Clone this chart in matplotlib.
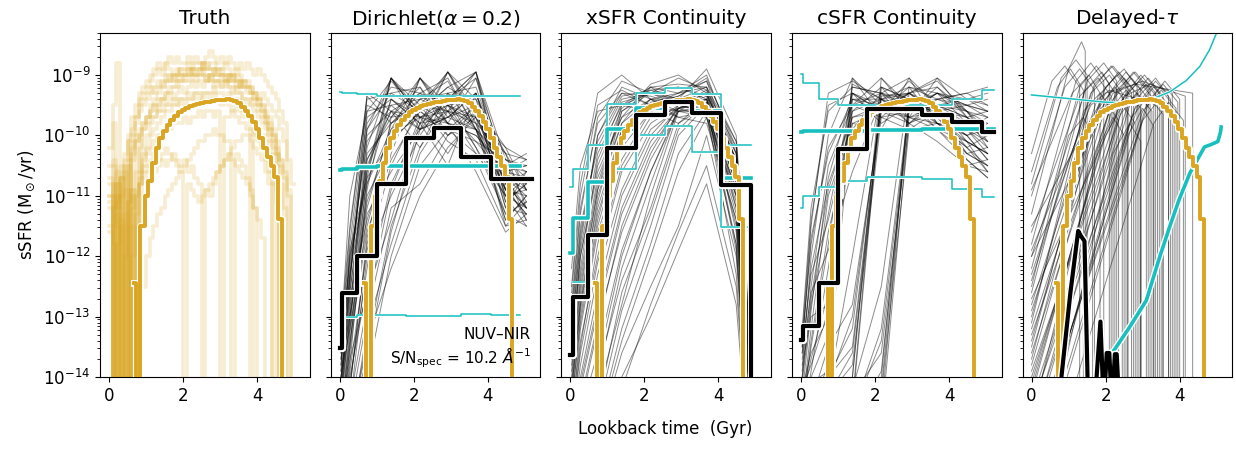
import numpy as np
import matplotlib
matplotlib.use("Agg")
import matplotlib.pyplot as plt
import matplotlib.patheffects as pe

GOLD = "#DAA520"
CYAN = "#17BFBF"
nan = np.nan

# ---- data (log10 sSFR, lookback time in Gyr) ----
# bin edges of the non-parametric SFHs and the knots the draws are drawn through
bin_edges = [0.0, 0.07, 0.48, 1.0, 1.78, 2.56, 3.28, 4.08, 4.88, 5.2]
knots = [0.035, 0.275, 0.74, 1.39, 2.17, 2.92, 3.68, 4.48, 5.04]

# true median SFH (first bins irregular, then 0.1 Gyr bins)
truth_edges = [0.67, 0.72, 0.85] + list(np.round(np.arange(0.96, 4.77, 0.1), 2))
truth_med = [-12.45, -20, -11.5,
             -11.0, -10.75, -10.45, -10.2, -10.05, -9.93, -9.83, -9.75, -9.68, -9.62,
             -9.58, -9.55, -9.52, -9.5, -9.48, -9.47, -9.45, -9.44, -9.43, -9.42,
             -9.41, -9.41, -9.4, -9.41, -9.43, -9.47, -9.53, -9.6, -9.68, -9.78,
             -9.9, -10.05, -10.2, -10.35, -10.5, -10.68, -11.38, -20]

# individual true SFHs, 0.1 Gyr bins from 0, in units of 0.1 dex (-200 = no SF)
truth_draws = [
    [-200, -108, -112, -105, -200, -101, -99, -97, -95, -94, -93, -92, -93, -91, -92, -90, -91, -90, -91, -90,
     -90, -89, -90, -90, -89, -90, -91, -90, -89, -90, -90, -91, -90, -90, -91, -92, -91, -92, -93, -93,
     -94, -95, -96, -97, -99, -101, -104, -200, -200, -200],
    [-112, -115, -110, -200, -106, -200, -103, -101, -100, -99, -98, -97, -97, -96, -96, -95, -95, -94, -95, -94,
     -94, -93, -94, -93, -93, -94, -93, -93, -92, -93, -93, -94, -93, -94, -94, -95, -96, -96, -97, -98,
     -99, -100, -101, -103, -200, -200, -200, -200, -200, -200],
    [-105, -95, -88, -200, -200, -104, -100, -97, -94, -93, -92, -91, -90, -89, -90, -88, -89, -90, -89, -90,
     -91, -90, -89, -90, -90, -89, -90, -91, -92, -91, -90, -91, -92, -93, -92, -93, -94, -95, -94, -96,
     -97, -98, -99, -101, -103, -105, -108, -112, -200, -200],
    [-115, -200, -113, -200, -120, -115, -200, -110, -108, -107, -106, -105, -106, -105, -104, -105, -104, -103, -104, -105,
     -104, -106, -105, -107, -108, -200, -109, -110, -108, -106, -105, -104, -103, -104, -105, -106, -107, -108, -110, -112,
     -114, -117, -200, -200, -200, -200, -200, -200, -200, -200],
    [-200, -110, -200, -107, -200, -105, -200, -115, -108, -103, -100, -98, -97, -95, -94, -93, -92, -92, -91, -91,
     -90, -90, -89, -89, -89, -88, -89, -88, -88, -89, -89, -88, -89, -90, -89, -90, -91, -91, -92, -93,
     -94, -95, -97, -98, -100, -103, -200, -200, -200, -200],
    [-110, -200, -108, -200, -105, -200, -102, -100, -200, -98, -97, -96, -95, -96, -94, -95, -93, -94, -93, -92,
     -93, -92, -91, -92, -91, -92, -91, -90, -91, -91, -92, -91, -90, -91, -92, -91, -92, -93, -93, -94,
     -95, -96, -97, -99, -100, -102, -104, -106, -109, -200],
    [-107, -200, -118, -115, -200, -111, -109, -200, -107, -106, -105, -104, -103, -104, -103, -102, -103, -104, -105, -106,
     -200, -108, -109, -110, -111, -110, -109, -108, -107, -106, -105, -104, -103, -102, -101, -101, -100, -100, -101, -102,
     -103, -104, -106, -108, -200, -200, -200, -200, -200, -200],
    [-200, -104, -200, -110, -104, -100, -97, -95, -93, -92, -91, -90, -89, -88, -89, -88, -87, -88, -87, -88,
     -88, -87, -88, -87, -88, -88, -87, -86, -87, -88, -87, -88, -87, -88, -89, -88, -89, -88, -89, -90,
     -89, -90, -91, -92, -93, -94, -96, -98, -200, -200],
    [-110, -105, -200, -200, -200, -200, -120, -113, -108, -105, -102, -100, -99, -98, -97, -96, -96, -95, -95, -94,
     -95, -94, -94, -93, -94, -93, -93, -94, -93, -94, -95, -94, -95, -96, -95, -96, -97, -97, -200, -99,
     -100, -101, -102, -104, -106, -109, -200, -200, -200, -200],
    [-200, -112, -108, -200, -113, -200, -110, -200, -200, -125, -120, -117, -115, -113, -112, -110, -109, -108, -107, -106,
     -105, -104, -103, -102, -101, -101, -100, -100, -99, -100, -100, -101, -101, -200, -103, -104, -105, -107, -109, -112,
     -200, -200, -200, -200, -200, -200, -200, -200, -200, -200],
    [-102, -98, -200, -107, -103, -101, -200, -98, -96, -95, -94, -93, -92, -92, -91, -91, -90, -91, -90, -89,
     -90, -89, -89, -90, -89, -88, -89, -89, -90, -89, -90, -90, -91, -90, -91, -92, -91, -92, -92, -93,
     -94, -93, -94, -95, -96, -97, -99, -101, -104, -108],
    [-108, -118, -200, -114, -200, -111, -109, -200, -106, -104, -103, -102, -101, -100, -100, -99, -99, -98, -98, -98,
     -97, -98, -97, -97, -96, -97, -96, -96, -97, -96, -200, -97, -97, -96, -97, -98, -98, -99, -99, -100,
     -101, -102, -104, -106, -108, -111, -200, -200, -200, -200],
    [-111, -200, -106, -200, -109, -200, -112, -106, -102, -99, -97, -95, -94, -93, -92, -91, -91, -90, -90, -89,
     -89, -88, -89, -88, -88, -89, -88, -89, -89, -90, -89, -90, -90, -91, -90, -91, -92, -92, -93, -94,
     -95, -96, -98, -100, -102, -200, -200, -200, -200, -200],
    [-116, -200, -111, -107, -200, -200, -104, -101, -99, -98, -97, -96, -95, -94, -94, -93, -93, -92, -92, -91,
     -91, -91, -90, -91, -90, -90, -91, -90, -91, -91, -92, -91, -92, -92, -93, -93, -94, -94, -95, -95,
     -96, -97, -98, -99, -101, -103, -105, -107, -110, -200],
]

# Dirichlet(alpha=0.2)
dirichlet_med = [-13.52, -12.61, -11.99, -10.80, -10.05, -9.87, -10.35, -10.72, -10.72]
dirichlet_hi = [-9.28, -9.30, -9.31, -9.34, -9.34, -9.34, -9.34, -9.34, nan]
dirichlet_mid = [-10.57, -10.55, -10.53, -10.51, -10.50, -10.50, -10.50, -10.50, nan]
dirichlet_lo = [-13.06, -13.0, -12.97, -12.97, -12.98, -12.98, -12.95, -12.97, nan]
dirichlet_draws = [
    [-13.8, -12.5, -9.3, -9.6, -9.7, -9.8, -10.0, -10.6, -10.8],
    [-14.5, -13.0, -10.2, -9.05, -9.9, -9.6, -9.8, -10.9, -11.0],
    [-15.0, -14.2, -11.8, -10.3, -9.05, -9.8, -9.9, -10.5, -10.6],
    [-13.5, -12.0, -10.8, -9.9, -9.5, -8.95, -9.7, -10.8, -11.2],
    [-14.0, -13.2, -11.5, -10.0, -9.7, -9.6, -8.95, -10.4, -10.5],
    [-13.2, -11.5, -9.4, -9.3, -9.6, -10.0, -9.5, -11.2, -11.3],
    [-15.5, -14.8, -13.5, -11.5, -10.2, -9.5, -9.4, -10.3, -10.4],
    [-14.2, -12.8, -10.5, -9.6, -9.3, -9.5, -10.2, -11.0, -11.2],
    [-13.6, -12.2, -9.9, -9.05, -9.5, -10.1, -10.4, -11.5, -11.4],
    [-15.2, -14.0, -12.5, -10.8, -9.8, -8.95, -9.6, -10.7, -10.8],
    [-14.8, -13.5, -11.0, -10.2, -9.05, -9.6, -10.3, -11.0, -10.9],
    [-13.3, -11.0, -9.6, -9.5, -9.9, -9.4, -8.95, -10.6, -10.7],
    [-16.0, -15.0, -14.0, -12.0, -10.5, -9.9, -9.5, -10.2, -10.4],
    [-14.0, -12.9, -10.0, -9.6, -10.2, -9.3, -9.9, -11.3, -11.5],
    [-13.9, -13.0, -11.2, -9.8, -9.4, -9.1, -9.9, -10.9, -10.6],
    [-15.0, -13.8, -10.8, -9.4, -9.8, -10.5, -9.3, -10.5, -11.1],
    [-14.4, -12.4, -9.8, -9.2, -9.3, -9.8, -10.6, -11.6, -11.3],
    [-15.5, -14.5, -12.0, -11.0, -10.0, -9.3, -9.2, -10.6, -10.5],
    [-13.7, -12.6, -10.4, -9.7, -9.05, -9.5, -9.8, -10.3, -10.9],
    [-14.6, -13.4, -11.6, -10.4, -9.6, -9.4, -8.95, -11.1, -10.8],
    [-13.4, -11.8, -9.5, -9.7, -9.6, -8.95, -9.8, -11.4, -11.0],
    [-15.8, -14.6, -13.0, -11.2, -10.8, -10.0, -9.6, -10.8, -11.2],
    [-14.1, -12.3, -10.6, -9.05, -9.7, -9.9, -10.1, -10.4, -10.7],
    [-14.9, -13.6, -11.3, -10.6, -9.9, -9.7, -9.5, -11.2, -10.6],
    [-13.5, -12.1, -10.1, -9.5, -9.4, -9.6, -9.7, -10.6, -11.4],
    [-15.3, -14.1, -12.2, -9.7, -9.2, -9.8, -10.0, -10.5, -10.3],
    [-14.3, -13.1, -10.7, -10.1, -9.6, -9.2, -9.5, -11.0, -11.5],
    [-13.8, -12.0, -9.7, -9.4, -9.8, -9.7, -9.3, -10.7, -11.0],
    [-16.2, -15.0, -13.2, -11.8, -10.3, -9.6, -9.3, -10.9, -10.7],
    [-14.7, -13.3, -10.9, -9.05, -9.6, -9.4, -10.2, -11.3, -11.1],
    [-14.2, -12.6, -10.3, -9.8, -9.3, -9.05, -9.9, -10.9, -11.3],
    [-15.1, -13.9, -11.9, -10.5, -9.5, -9.8, -9.05, -10.5, -10.9],
    [-13.6, -12.4, -9.6, -9.1, -9.6, -9.9, -10.3, -10.6, -10.4],
    [-14.9, -13.7, -12.6, -11.4, -9.8, -9.5, -9.7, -10.2, -10.9],
    [-13.9, -11.9, -10.7, -9.05, -9.7, -10.3, -9.6, -11.1, -10.8],
    [-15.6, -14.4, -12.8, -10.9, -9.7, -9.4, -9.05, -10.8, -11.4],
    [-14.3, -13.0, -11.1, -9.9, -9.05, -9.7, -9.9, -11.4, -11.0],
    [-13.4, -11.6, -9.35, -9.8, -9.5, -9.6, -10.1, -10.7, -11.2],
    [-16.1, -14.8, -13.4, -12.2, -11.0, -10.2, -9.7, -10.6, -10.5],
    [-14.6, -13.2, -10.4, -9.6, -9.9, -8.95, -9.4, -11.0, -10.7],
    [-15.3, -14.2, -11.7, -10.0, -9.4, -9.3, -9.6, -10.3, -11.2],
    [-13.7, -12.3, -9.9, -9.3, -9.2, -10.0, -9.7, -11.5, -11.1],
    [-15.9, -14.7, -13.7, -11.6, -9.9, -9.7, -9.3, -10.7, -10.9],
    [-14.0, -12.7, -11.4, -10.1, -9.6, -9.2, -8.95, -10.9, -11.3],
    [-14.8, -13.5, -10.6, -9.4, -9.7, -9.5, -9.9, -10.4, -10.6],
]

# xSFR continuity
xsfr_med = [-13.63, -12.67, -11.65, -10.21, -9.66, -9.44, -9.63, -10.82, -20]
xsfr_hi = [-10.85, -10.56, -10.15, -9.48, -9.29, -9.21, -9.31, -10.15, nan]
xsfr_mid = [-11.95, -11.37, -10.77, -9.9, -9.55, -9.45, -9.6, -10.7, nan]
xsfr_lo = [nan, -12.42, nan, -10.55, -9.99, -9.84, -10.27, -11.51, nan]
xsfr_draws = [
    [-13.0, -11.5, -10.2, -9.4, -9.3, -9.4, -9.2, -10.3, -15.5],
    [-12.5, -10.8, -9.3, -9.0, -9.4, -9.6, -9.5, -10.6, -16.0],
    [-14.2, -12.8, -11.0, -9.8, -9.2, -9.3, -9.1, -10.1, -15.0],
    [-15.5, -14.5, -13.2, -11.5, -10.3, -9.5, -9.4, -10.8, -15.5],
    [-16.0, -15.2, -14.3, -12.8, -11.0, -9.6, -9.3, -11.2, -16.0],
    [-13.6, -12.0, -10.6, -9.7, -9.15, -9.0, -9.3, -10.4, -15.2],
    [-14.8, -13.5, -11.8, -10.2, -9.6, -9.4, -8.9, -10.0, -14.8],
    [-12.8, -11.2, -9.8, -9.3, -9.5, -9.6, -9.7, -11.0, -16.0],
    [-15.0, -14.0, -12.6, -11.0, -10.0, -9.5, -9.6, -11.5, -16.5],
    [-16.5, -16.0, -15.0, -13.6, -12.5, -11.5, -10.0, -12.0, -17.0],
    [-13.9, -12.4, -10.8, -9.6, -9.3, -9.2, -9.4, -10.7, -15.5],
    [-14.5, -13.0, -11.4, -9.9, -9.5, -9.35, -9.05, -10.2, -15.0],
    [-15.8, -15.0, -14.0, -12.2, -10.8, -9.55, -9.7, -11.8, -17.0],
    [-13.2, -11.8, -10.0, -9.2, -9.4, -9.7, -9.8, -11.4, -16.0],
    [-14.0, -12.6, -10.9, -9.5, -9.2, -9.5, -9.3, -10.5, -15.8],
    [-16.2, -15.6, -14.8, -13.2, -11.8, -10.3, -9.6, -11.0, -16.0],
    [-15.2, -14.2, -12.9, -11.3, -10.2, -9.55, -9.5, -10.9, -15.5],
    [-13.4, -12.2, -10.4, -9.45, -9.3, -9.05, -9.25, -10.2, -15.0],
    [-14.6, -13.4, -12.0, -10.5, -9.7, -9.55, -9.4, -11.6, -16.5],
    [-12.2, -10.5, -9.6, -9.5, -9.6, -9.8, -9.4, -10.8, -15.5],
    [-15.9, -15.3, -14.5, -12.6, -11.3, -9.9, -9.45, -10.4, -15.0],
    [-13.7, -12.3, -10.7, -9.7, -9.4, -9.5, -9.6, -12.3, -17.0],
    [-14.9, -13.8, -12.3, -10.9, -9.9, -9.55, -9.35, -10.6, -15.5],
    [-13.1, -11.6, -10.1, -9.35, -9.25, -9.4, -9.5, -10.9, -16.0],
    [-16.4, -15.8, -15.0, -14.2, -12.8, -11.6, -10.5, -12.5, -17.0],
    [-14.3, -12.9, -11.2, -9.9, -9.4, -9.3, -9.0, -10.3, -15.2],
    [-15.4, -14.6, -13.6, -11.9, -10.6, -9.6, -9.6, -11.3, -16.0],
    [-13.5, -11.9, -10.3, -9.5, -9.3, -9.45, -9.55, -10.7, -15.8],
    [-14.7, -13.2, -11.6, -10.4, -9.6, -9.4, -9.3, -10.5, -15.4],
    [-15.6, -14.9, -13.9, -12.4, -11.2, -9.8, -9.5, -11.9, -16.5],
    [-13.3, -11.7, -10.0, -9.3, -9.35, -9.5, -9.3, -10.4, -15.5],
    [-14.4, -13.1, -11.5, -10.1, -9.5, -9.3, -9.2, -10.6, -15.8],
    [-15.7, -15.0, -13.8, -12.0, -10.6, -9.55, -9.45, -11.0, -16.0],
    [-12.9, -11.3, -9.7, -9.1, -9.3, -9.5, -9.6, -10.9, -16.0],
    [-14.1, -12.7, -11.1, -9.6, -9.25, -9.2, -9.35, -10.3, -15.2],
    [-16.3, -15.7, -14.9, -13.4, -12.0, -10.6, -9.7, -11.4, -16.5],
    [-13.8, -12.5, -10.9, -9.8, -9.4, -9.4, -9.5, -11.8, -16.5],
    [-15.1, -14.1, -12.8, -11.2, -10.1, -9.55, -9.4, -10.7, -15.5],
    [-12.6, -11.0, -9.5, -9.25, -9.5, -9.7, -9.6, -11.1, -16.0],
    [-14.8, -13.6, -12.1, -10.6, -9.8, -9.5, -9.25, -10.4, -15.0],
    [-16.0, -15.5, -14.6, -12.9, -11.5, -10.0, -9.5, -10.8, -15.5],
    [-13.5, -12.0, -10.5, -9.55, -9.2, -9.15, -9.2, -10.1, -15.0],
    [-15.3, -14.4, -13.1, -11.6, -10.4, -9.6, -9.55, -11.2, -16.0],
    [-14.2, -12.8, -11.3, -10.0, -9.45, -9.35, -9.1, -10.5, -15.5],
    [-16.6, -16.1, -15.3, -14.0, -13.0, -11.9, -10.8, -12.8, -17.0],
]

# cSFR continuity
csfr_med = [-13.38, -13.16, -12.45, -10.23, -9.57, -9.57, -9.66, -9.77, -9.94]
csfr_hi = [-8.98, -9.14, -9.40, -9.50, -9.50, -9.50, -9.50, -9.40, -9.25]
csfr_mid = [-9.95, -9.93, -9.92, -9.92, -9.91, -9.91, -9.90, -9.90, -9.89]
csfr_lo = [-11.2, -11.0, -10.85, -10.75, -10.68, -10.68, -10.72, -10.88, -11.02]
csfr_draws = [
    [-13.5, -11.5, -9.3, -9.1, -9.4, -9.6, -9.7, -9.9, -10.1],
    [-15.0, -14.5, -13.8, -9.05, -9.5, -9.3, -9.6, -9.5, -9.6],
    [-15.5, -15.0, -14.8, -14.5, -9.3, -9.05, -9.8, -10.2, -10.5],
    [-15.8, -15.5, -15.2, -15.0, -14.6, -9.3, -9.1, -9.6, -9.8],
    [-14.0, -12.5, -10.5, -9.5, -9.05, -9.5, -9.9, -10.3, -10.2],
    [-13.8, -13.0, -12.8, -9.3, -9.6, -9.7, -9.05, -9.4, -9.3],
    [-15.2, -14.8, -14.0, -13.5, -9.5, -9.4, -9.6, -10.0, -10.4],
    [-14.5, -13.2, -11.0, -9.8, -9.9, -9.05, -9.5, -9.7, -10.0],
    [-15.6, -15.3, -15.0, -14.8, -13.9, -9.6, -9.3, -9.5, -9.7],
    [-13.2, -11.2, -9.6, -9.2, -9.3, -9.8, -10.1, -10.5, -10.6],
    [-15.0, -14.6, -14.2, -12.0, -9.2, -9.7, -9.6, -9.9, -10.3],
    [-14.2, -13.6, -13.0, -9.6, -9.4, -9.2, -9.3, -9.8, -9.9],
    [-15.4, -15.0, -14.6, -14.2, -12.5, -9.2, -9.4, -9.3, -9.5],
    [-13.9, -12.0, -10.0, -9.05, -9.7, -9.9, -9.8, -10.2, -10.6],
    [-15.3, -14.9, -14.5, -14.0, -9.05, -9.6, -9.5, -9.6, -10.0],
    [-14.8, -13.9, -12.2, -9.4, -9.5, -9.4, -9.9, -10.4, -10.7],
    [-15.7, -15.4, -15.1, -14.7, -14.0, -9.4, -9.7, -10.1, -10.3],
    [-13.6, -12.2, -10.8, -9.7, -9.6, -9.3, -9.05, -9.7, -9.6],
    [-15.1, -14.7, -14.0, -13.2, -9.4, -9.5, -9.4, -9.3, -9.2],
    [-14.6, -13.4, -11.6, -9.9, -9.3, -9.6, -9.7, -10.0, -9.9],
    [-15.5, -15.2, -14.9, -14.6, -13.2, -9.5, -9.6, -9.8, -10.1],
    [-14.1, -12.8, -11.3, -9.3, -9.8, -9.5, -9.6, -10.3, -10.5],
    [-15.2, -14.7, -14.3, -13.8, -9.7, -9.3, -9.2, -9.7, -10.2],
    [-13.4, -11.8, -10.2, -9.5, -9.3, -9.4, -9.8, -10.0, -9.8],
    [-15.9, -15.6, -15.3, -15.1, -14.8, -9.7, -9.5, -9.4, -9.5],
    [-14.4, -13.7, -12.6, -9.15, -9.4, -9.8, -9.6, -10.5, -10.4],
    [-15.0, -14.4, -13.5, -12.8, -9.6, -9.2, -9.8, -9.9, -10.0],
    [-14.7, -14.1, -13.9, -9.5, -9.7, -9.6, -9.4, -9.6, -9.9],
    [-13.7, -12.6, -11.9, -10.6, -9.4, -9.3, -9.5, -10.1, -10.6],
    [-15.3, -15.0, -14.6, -14.3, -13.6, -9.8, -9.4, -9.5, -9.4],
    [-14.3, -12.9, -10.7, -9.3, -9.5, -9.7, -9.8, -10.1, -10.3],
    [-15.4, -15.1, -14.7, -14.4, -9.2, -9.4, -9.5, -9.7, -9.9],
    [-15.9, -15.6, -15.4, -15.1, -14.2, -9.5, -9.3, -9.4, -9.6],
    [-13.3, -11.4, -9.5, -9.3, -9.6, -9.5, -9.7, -10.3, -10.5],
    [-15.1, -14.8, -14.3, -13.6, -9.6, -9.1, -9.5, -9.8, -10.0],
    [-14.5, -13.5, -11.8, -9.2, -9.3, -9.5, -9.8, -9.9, -10.2],
    [-15.6, -15.3, -14.9, -14.6, -13.4, -9.6, -9.2, -9.6, -9.7],
    [-13.6, -12.3, -11.4, -9.7, -9.5, -9.6, -9.3, -9.5, -9.6],
    [-15.2, -14.9, -14.4, -14.0, -9.35, -9.3, -9.7, -10.0, -10.4],
    [-14.0, -12.7, -10.9, -9.6, -9.2, -9.4, -9.6, -10.2, -10.0],
    [-15.7, -15.5, -15.2, -14.9, -14.3, -9.9, -9.6, -9.7, -9.9],
    [-14.6, -14.0, -13.3, -9.4, -9.6, -9.8, -9.5, -10.4, -10.7],
    [-13.5, -11.7, -10.3, -9.4, -9.4, -9.7, -9.9, -10.1, -10.3],
    [-15.0, -14.6, -14.1, -13.0, -9.5, -9.6, -9.3, -9.6, -10.1],
    [-14.2, -13.8, -12.9, -9.8, -9.6, -9.3, -9.6, -9.9, -9.7],
]

# Delayed-tau draws, all starting at t=0:
# (v_start, t_knee, v_knee, t_peak, v_peak, t_end, v_end); SFR drops to zero at t_end
tau_draws = [
    (-10.3, 0.55, -9.1, 0.9, -8.85, 1.3, -9.2), (-10.8, 0.8, -9.05, 1.2, -8.75, 1.5, -9.0),
    (-11.3, 1.0, -8.9, 1.35, -8.45, 1.45, -8.6), (-11.0, 0.9, -9.2, 1.3, -8.9, 1.7, -9.25),
    (-11.8, 1.2, -9.1, 1.6, -8.8, 1.95, -9.1), (-12.2, 1.3, -9.2, 1.75, -8.85, 2.1, -9.15),
    (-12.6, 1.5, -9.1, 1.95, -8.8, 2.3, -9.1), (-12.0, 1.45, -9.25, 1.9, -8.95, 2.25, -9.3),
    (-13.0, 1.7, -9.2, 2.15, -8.85, 2.55, -9.15), (-12.4, 1.6, -9.3, 2.1, -9.0, 2.45, -9.3),
    (-13.4, 1.9, -9.3, 2.35, -8.95, 2.75, -9.25), (-12.8, 1.8, -9.35, 2.3, -9.0, 2.7, -9.3),
    (-13.8, 2.1, -9.3, 2.55, -8.95, 2.95, -9.25), (-13.2, 2.0, -9.4, 2.5, -9.05, 2.9, -9.35),
    (-14.2, 2.3, -9.3, 2.75, -8.95, 3.15, -9.25), (-13.6, 2.2, -9.4, 2.7, -9.05, 3.1, -9.35),
    (-14.6, 2.5, -9.35, 2.95, -9.0, 3.35, -9.3), (-14.0, 2.4, -9.45, 2.9, -9.1, 3.3, -9.4),
    (-15.0, 2.7, -9.4, 3.15, -9.05, 3.55, -9.35), (-14.4, 2.6, -9.5, 3.1, -9.15, 3.5, -9.45),
    (-15.4, 2.9, -9.45, 3.35, -9.1, 3.75, -9.4), (-14.8, 2.8, -9.55, 3.3, -9.2, 3.7, -9.5),
    (-15.8, 3.1, -9.5, 3.55, -9.15, 3.95, -9.45), (-15.2, 3.0, -9.6, 3.5, -9.25, 3.9, -9.55),
    (-12.0, 2.2, -9.3, 3.0, -9.1, 3.8, -9.3), (-11.5, 2.0, -9.3, 2.8, -9.15, 4.35, -9.3),
    (-10.9, 1.1, -9.3, 1.55, -9.0, 1.85, -9.3), (-11.6, 1.3, -9.35, 1.8, -9.05, 2.15, -9.35),
    (-13.1, 1.4, -9.6, 1.85, -9.3, 2.2, -9.6), (-12.3, 1.7, -9.15, 2.2, -8.85, 2.6, -9.15),
    (-13.7, 1.8, -9.55, 2.25, -9.2, 2.6, -9.5), (-12.9, 2.0, -9.2, 2.5, -8.9, 2.85, -9.2),
    (-14.3, 2.1, -9.6, 2.55, -9.25, 2.95, -9.55), (-13.3, 2.3, -9.25, 2.8, -8.95, 3.2, -9.25),
    (-14.9, 2.4, -9.65, 2.85, -9.3, 3.25, -9.6), (-13.9, 2.6, -9.3, 3.05, -9.0, 3.45, -9.3),
    (-15.5, 2.7, -9.7, 3.15, -9.35, 3.55, -9.65), (-14.5, 2.9, -9.35, 3.35, -9.05, 3.7, -9.35),
    (-16.0, 3.0, -9.75, 3.45, -9.4, 3.85, -9.7), (-15.1, 3.2, -9.4, 3.6, -9.1, 4.0, -9.4),
    (-16.5, 3.3, -9.8, 3.7, -9.45, 4.1, -9.75), (-12.7, 2.5, -9.35, 3.2, -9.15, 4.15, -9.35),
    (-11.9, 1.6, -9.5, 2.1, -9.25, 3.4, -9.5), (-14.1, 2.0, -10.0, 2.45, -9.5, 2.8, -9.8),
    (-15.6, 2.6, -10.0, 3.0, -9.55, 3.3, -9.85), (-13.5, 1.6, -9.8, 2.0, -9.45, 2.35, -9.75),
    (-10.6, 0.7, -9.2, 1.05, -8.9, 1.4, -9.25), (-12.5, 1.0, -10.0, 1.4, -9.7, 1.65, -10.0),
    (-14.7, 1.8, -10.2, 2.2, -9.7, 2.5, -10.0), (-16.2, 2.2, -10.3, 2.65, -9.8, 2.95, -10.1),
]
tau_med_t = [0.72, 1.05, 1.26, 1.33, 1.43, 1.53, 1.70, 1.86, 1.95, 2.03, 2.10, 2.17, 2.25, 2.30, 2.37]
tau_med_v = [-14.5, -12.6, -11.58, -11.66, -11.75, -14.5, -14.5, -13.08, -14.5, -13.6, -13.6, -14.5, -13.62, -13.62, -14.5]
tau_hi_t = [0.0, 0.5, 1.0, 1.5, 2.0, 2.65, 3.0, 3.28, 3.73, 4.18, 4.54, 4.8, 4.99]
tau_hi_v = [-9.33, -9.36, -9.39, -9.42, -9.45, -9.46, -9.43, -9.39, -9.28, -9.09, -8.86, -8.59, -8.31]
tau_lo_t = [1.72, 2.2, 2.65, 3.1, 3.46, 3.73, 3.98, 4.27, 4.45, 4.67, 4.85, 5.03, 5.1, 5.12]
tau_lo_v = [-14.3, -13.58, -13.17, -12.73, -12.01, -11.51, -11.07, -10.63, -10.43, -10.19, -10.15, -10.1, -9.95, -9.86]

titles = ["Truth", r"Dirichlet($\alpha=0.2$)", "xSFR Continuity", "cSFR Continuity", r"Delayed-$\tau$"]


def halo(w):
    return [pe.Stroke(linewidth=w, foreground="white"), pe.Normal()]


def stairs(ax, edges, logv, **kw):
    logv = np.asarray(logv, dtype=float)
    y = 10.0 ** np.append(logv, logv[-1])
    return ax.step(edges, y, where="post", **kw)


def draw_truth(ax):
    stairs(ax, truth_edges, truth_med, color=GOLD, lw=2.8, zorder=4, path_effects=halo(5.0))


def draw_binned(ax, draws, hi, mid, lo, med):
    for d in draws:
        ax.plot(knots, 10.0 ** np.array(d), color="k", lw=0.7, alpha=0.45, zorder=1)
    stairs(ax, bin_edges, hi, color=CYAN, lw=1.1, zorder=2, path_effects=halo(2.2))
    stairs(ax, bin_edges, lo, color=CYAN, lw=1.1, zorder=2, path_effects=halo(2.2))
    stairs(ax, bin_edges, mid, color=CYAN, lw=2.6, zorder=3, path_effects=halo(4.6))
    draw_truth(ax)
    stairs(ax, bin_edges, med, color="k", lw=3.0, zorder=5, path_effects=halo(5.2))


fig, axes = plt.subplots(1, 5, figsize=(12.36, 4.49), dpi=100, sharey=True)
fig.subplots_adjust(left=0.081, right=0.997, bottom=0.16, top=0.927, wspace=0.1)

# Truth
ax = axes[0]
for d in truth_draws:
    edges = 0.1 * np.arange(len(d) + 1)
    stairs(ax, edges, np.array(d) / 10.0, color=GOLD, lw=2.6, alpha=0.2, zorder=1)
draw_truth(ax)

draw_binned(axes[1], dirichlet_draws, dirichlet_hi, dirichlet_mid, dirichlet_lo, dirichlet_med)
draw_binned(axes[2], xsfr_draws, xsfr_hi, xsfr_mid, xsfr_lo, xsfr_med)
draw_binned(axes[3], csfr_draws, csfr_hi, csfr_mid, csfr_lo, csfr_med)

# Delayed-tau
ax = axes[4]
for v0, tk, vk, tp, vp, te, ve in tau_draws:
    ax.plot([0.0, tk, tp, te, te], 10.0 ** np.array([v0, vk, vp, ve, -16.0]),
            color="k", lw=0.7, alpha=0.45, zorder=1)
ax.plot(tau_hi_t, 10.0 ** np.array(tau_hi_v), color=CYAN, lw=1.1, zorder=2, path_effects=halo(2.2))
ax.plot(tau_lo_t, 10.0 ** np.array(tau_lo_v), color=CYAN, lw=2.6, zorder=3, path_effects=halo(4.6))
draw_truth(ax)
ax.plot(tau_med_t, 10.0 ** np.array(tau_med_v), color="k", lw=3.0, zorder=5, path_effects=halo(5.2))

for ax, title in zip(axes, titles):
    ax.set_yscale("log")
    ax.set_ylim(1e-14, 5e-9)
    ax.set_xlim(-0.24, 5.42)
    ax.set_xticks([0, 2, 4])
    ax.set_title(title, fontsize=14.5, pad=6)
    ax.tick_params(labelsize=12)

axes[0].set_ylabel(r"sSFR (M$_\odot$/yr)", fontsize=12)
axes[1].text(0.955, 0.02, "NUV\u2013NIR\nS/N$_{\\rm spec}$ = 10.2 $\\AA^{-1}$",
             transform=axes[1].transAxes, ha="right", va="bottom", multialignment="right",
             fontsize=11, zorder=6)
fig.text(0.538, 0.025, "Lookback time  (Gyr)", ha="center", va="bottom", fontsize=12)

plt.savefig("out.png", dpi=100)
